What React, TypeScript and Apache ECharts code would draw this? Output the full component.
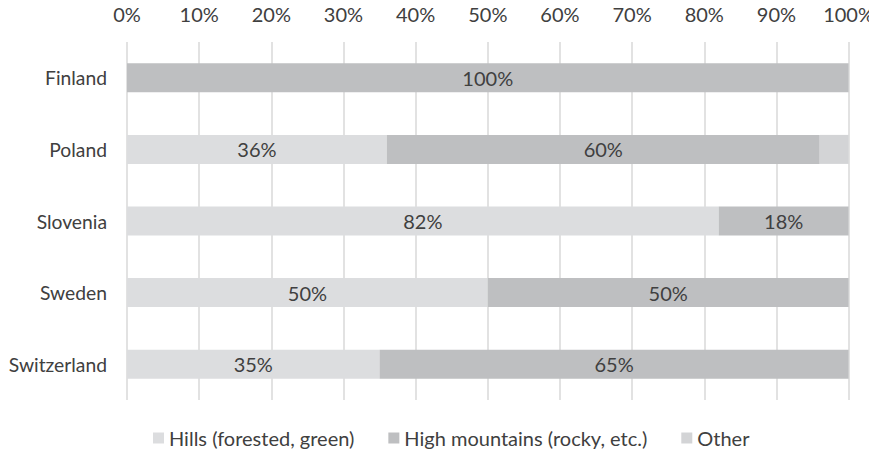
import React, { useEffect, useRef } from "react";
import * as echarts from "echarts";

const countries = ["Finland", "Poland", "Slovenia", "Sweden", "Switzerland"];
const hills = [0, 36, 82, 50, 35];
const mountains = [100, 60, 18, 50, 65];
const other = [0, 4, 0, 0, 0];
const seriesNames = ["Hills (forested, green)", "High mountains (rocky, etc.)", "Other"];

const FONT = "Lato, 'Open Sans', sans-serif";
const TXT = "#404040";
const FS = 20;

export default function App() {
  const ref = useRef<HTMLDivElement>(null);
  useEffect(() => {
    const chart = echarts.init(ref.current!, null, { renderer: "svg" });
    const label = {
      show: true,
      position: "inside",
      color: TXT,
      fontSize: FS,
      fontFamily: FONT,
      formatter: (p: any) => (p.value > 0 ? p.value + "%" : ""),
    };
    chart.setOption({
      animation: false,
      textStyle: { fontFamily: FONT },
      grid: { left: 127, right: 28, top: 42, bottom: 57 },
      legend: {
        bottom: 4,
        left: 148,
        itemWidth: 11,
        itemHeight: 11,
        itemGap: 34,
        icon: "rect",
        textStyle: { color: TXT, fontSize: FS, fontFamily: FONT },
        data: seriesNames,
      },
      xAxis: {
        type: "value",
        position: "top",
        min: 0,
        max: 100,
        interval: 10,
        axisLabel: { formatter: "{value}%", color: TXT, fontSize: FS, fontFamily: FONT, margin: 18 },
        axisLine: { show: false },
        axisTick: { show: false },
        splitLine: { lineStyle: { color: "#d9d9d9", width: 1.5 } },
      },
      yAxis: {
        type: "category",
        data: countries,
        inverse: true,
        axisLine: { show: false },
        axisTick: { show: false },
        axisLabel: { color: TXT, fontSize: 19.3, fontFamily: FONT, margin: 20 },
      },
      series: [
        { name: seriesNames[0], type: "bar", stack: "s", data: hills, barWidth: 29, itemStyle: { color: "#dcdddf" }, label },
        { name: seriesNames[1], type: "bar", stack: "s", data: mountains, barWidth: 29, itemStyle: { color: "#bebfc1" }, label },
        { name: seriesNames[2], type: "bar", stack: "s", data: other, barWidth: 29, itemStyle: { color: "#d3d4d6" }, label: { show: false } },
      ],
    });
    return () => chart.dispose();
  }, []);
  return <div ref={ref} style={{ width: 877, height: 457, margin: -8 }} />;
}
